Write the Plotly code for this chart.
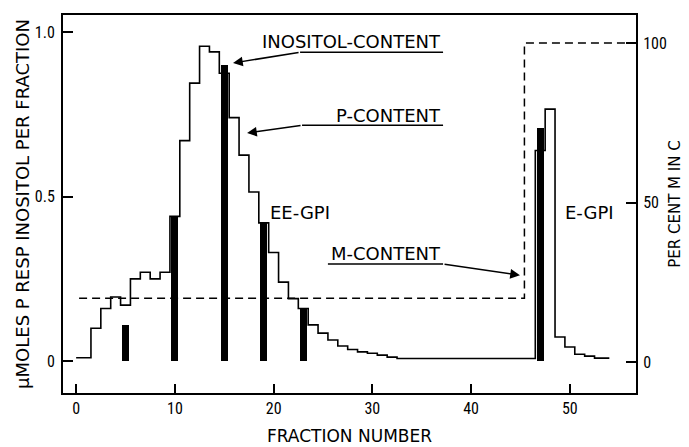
import plotly.graph_objects as go

# ---- data ----
fractions = list(range(0, 55))
p_content = [0.01, 0.01, 0.10, 0.16, 0.195, 0.17, 0.25, 0.27, 0.25, 0.27,
             0.44, 0.67, 0.845, 0.957, 0.94, 0.875, 0.74, 0.626, 0.514, 0.42,
             0.33, 0.24, 0.19, 0.16, 0.11, 0.085, 0.064, 0.046, 0.035, 0.028,
             0.024, 0.018, 0.012, 0.008, 0.008, 0.008, 0.008, 0.008, 0.008, 0.008,
             0.008, 0.008, 0.008, 0.008, 0.008, 0.008, 0.008, 0.64, 0.766, 0.073,
             0.043, 0.021, 0.015, 0.009, 0.009]

inositol_fractions = [5, 10, 15, 19, 23, 47]
inositol_content = [0.11, 0.44, 0.90, 0.42, 0.16, 0.71]

m_fractions = [0.3, 45.4, 45.4, 56.7]
m_content = [20, 20, 100, 100]

x_ticks = [0, 10, 20, 30, 40, 50]
y_ticks = [0, 0.5, 1.0]
y_ticktext = ["0", "0.5", "1.0"]
y2_ticks = [0, 50, 100]

FONT = "Liberation Sans Narrow, Roboto Condensed, Liberation Sans, DejaVu Sans, sans-serif"
LFONT = "DejaVu Sans, sans-serif"

fig = go.Figure()

fig.add_trace(go.Bar(
    x=inositol_fractions, y=inositol_content, width=0.7,
    marker=dict(color="black", line=dict(width=0)),
    showlegend=False, name="INOSITOL-CONTENT"))

fig.add_trace(go.Scatter(
    x=fractions, y=p_content, mode="lines", line_shape="hvh",
    line=dict(color="black", width=1.6), showlegend=False, name="P-CONTENT"))

fig.add_trace(go.Scatter(
    x=m_fractions, y=m_content, mode="lines", yaxis="y2",
    line=dict(color="black", width=1.5, dash="8px,5px"),
    showlegend=False, name="M-CONTENT"))

axis_common = dict(showline=True, linecolor="black", linewidth=2, ticks="inside",
                   tickcolor="black", tickwidth=2, showgrid=False, zeroline=False,
                   automargin=False)

# the page body adds an 8px offset, so the margins compensate for it
fig.update_layout(
    width=689, height=447,
    margin=dict(l=55, r=61, t=7, b=62),
    paper_bgcolor="white", plot_bgcolor="white",
    bargap=0,
    xaxis=dict(range=[-1.33, 56.7], tickvals=x_ticks, ticklen=9, mirror=True,
               tickfont=dict(family=FONT, size=16, color="black"),
               title=dict(text="FRACTION NUMBER", standoff=13,
                          font=dict(family=LFONT, size=17, color="black")),
               **axis_common),
    yaxis=dict(range=[-0.097, 1.052], tickvals=y_ticks, ticktext=y_ticktext,
               ticklen=10, mirror=True, ticklabelstandoff=3,
               tickfont=dict(family=FONT, size=16, color="black"),
               title=dict(text="\u03bcMOLES P RESP INOSITOL PER FRACTION", standoff=0,
                          font=dict(family=LFONT, size=18, color="black")),
               **axis_common),
    yaxis2=dict(range=[-9.72, 108.8], tickvals=y2_ticks, overlaying="y", side="right",
                ticklen=10, ticklabelstandoff=2,
                tickfont=dict(family=FONT, size=16, color="black"),
                title=dict(text="PER CENT M IN C", standoff=4,
                           font=dict(family=LFONT, size=15, color="black")),
                **axis_common),
)

# text labels
labels = [
    ("INOSITOL-CONTENT", 37.16, 0.970, "right"),
    ("P-CONTENT", 37.16, 0.748, "right"),
    ("M-CONTENT", 37.16, 0.328, "right"),
    ("EE-GPI", 19.43, 0.453, "left"),
    ("E-GPI", 49.31, 0.453, "left"),
]
for txt, lx, ly, anc in labels:
    fig.add_annotation(x=lx, y=ly, xref="x", yref="y", text=txt, showarrow=False,
                       xanchor=anc, yanchor="middle",
                       font=dict(family=LFONT, size=18, color="black"))

# underlines
for x0, x1, yy in [(22.68, 37.16, 0.939), (22.88, 37.16, 0.717), (25.5, 37.16, 0.295)]:
    fig.add_shape(type="line", xref="x", yref="y", x0=x0, x1=x1, y0=yy, y1=yy,
                  line=dict(color="black", width=1.5))

# arrows: (tip x, tip y, tail x, tail y)
for tx, ty, sx, sy in [(15.89, 0.906, 22.68, 0.939), (17.31, 0.693, 22.88, 0.717),
                       (44.95, 0.261, 37.16, 0.295)]:
    fig.add_annotation(x=tx, y=ty, ax=sx, ay=sy, xref="x", yref="y", axref="x", ayref="y",
                       text="", showarrow=True, arrowhead=2, arrowsize=1.3,
                       arrowwidth=1.5, arrowcolor="black", standoff=0, startstandoff=0)

fig.write_html("out.html")
